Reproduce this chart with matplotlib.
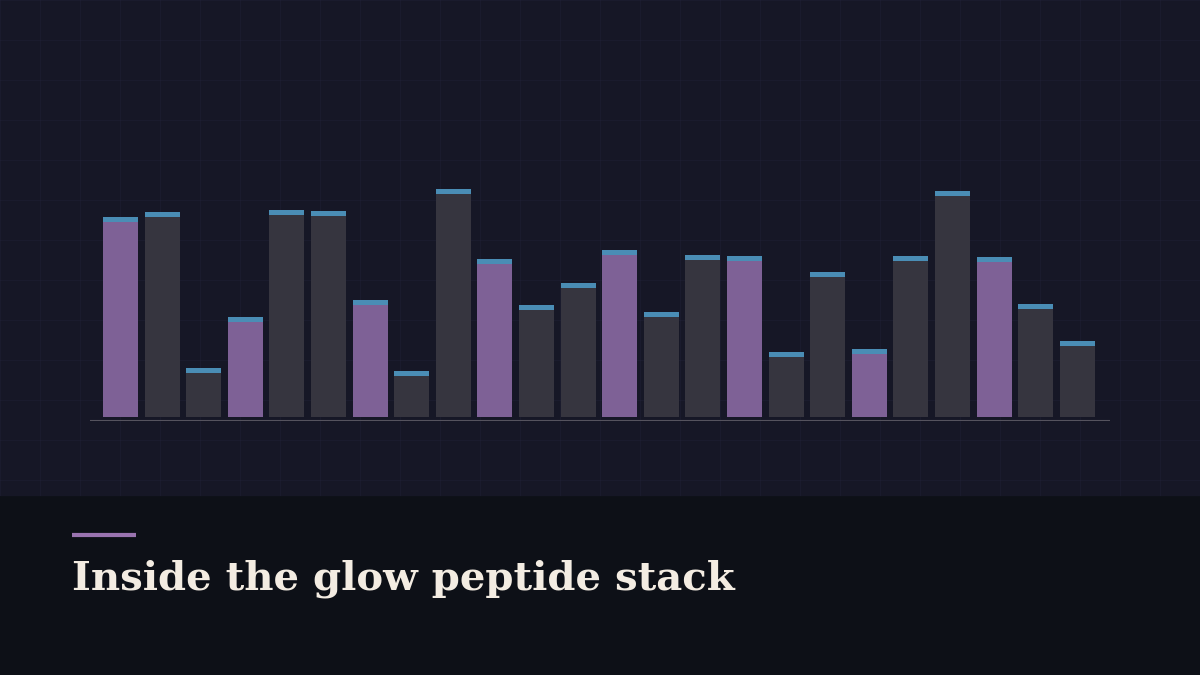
import matplotlib

matplotlib.use("Agg")
import matplotlib.pyplot as plt
import numpy as np

# bar totals (pixel-ish units above baseline), cap shown on top
values = [200, 205, 49, 100, 207, 206, 117, 46, 228, 158, 112, 134,
          167, 105, 162, 161, 65, 145, 68, 161, 226, 160, 113, 76]
highlight = [i % 3 == 0 for i in range(len(values))]
cap = 5
title = "Inside the glow peptide stack"

BG_TOP, BG_BOT = "#161726", "#0d1017"
C_PURPLE, C_GRAY, C_CAP = "#7e6196", "#36353f", "#4a8db5"

fig = plt.figure(figsize=(12, 6.75), dpi=100)
fig.patch.set_facecolor(BG_BOT)

# background with faint grid
bg = fig.add_axes([0, 0, 1, 1])
bg.set_xlim(0, 1200)
bg.set_ylim(675, 0)
bg.axis("off")
bg.add_patch(plt.Rectangle((0, 0), 1200, 495, color=BG_TOP, zorder=0))
for x in np.arange(0, 1201, 40):
    bg.plot([x, x], [0, 495], color="#22233a", lw=0.8, alpha=0.4, zorder=1)
for y in np.arange(0, 495, 40):
    bg.plot([0, 1200], [y, y], color="#22233a", lw=0.8, alpha=0.4, zorder=1)
bg.plot([72, 136], [535, 535], color="#9a74b0", lw=3, solid_capstyle="butt")
bg.text(72, 589, title, fontsize=29, fontweight="bold", family="DejaVu Serif",
        color="#f3ece2", va="baseline")

ax = fig.add_axes([90 / 1200, (675 - 421) / 675, 1020 / 1200, 241 / 675])
ax.patch.set_alpha(0)
x = np.arange(len(values))
vals = np.array(values)
cols = [C_PURPLE if h else C_GRAY for h in highlight]
ax.bar(x, vals - cap, width=0.84, color=cols, bottom=0)
ax.bar(x, cap, width=0.84, bottom=vals - cap, color=C_CAP)
ax.axhline(-4, color="#55535e", lw=1.5)
ax.set_xlim(-30.5 / 41.6, (1110 - 120.5) / 41.6)
ax.set_ylim(-4, 237)
ax.axis("off")

fig.savefig("out.png", dpi=100, facecolor=fig.get_facecolor())
